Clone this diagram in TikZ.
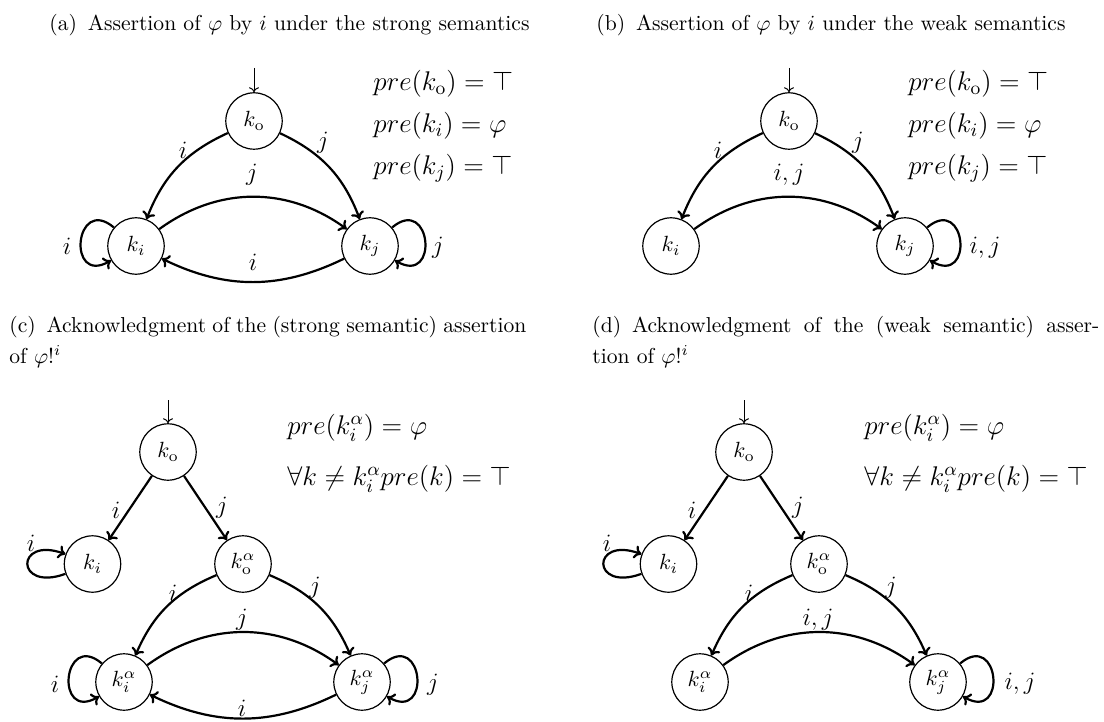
\RequirePackage{fix-cm}
\documentclass[tikz,border=0pt]{standalone}
\usepackage{amssymb}
\usetikzlibrary{arrows.meta}
\begin{document}
\begin{tikzpicture}[x=0.5pt,y=-0.5pt,
  state/.style={circle, draw, line width=0.6pt, minimum size=28.2pt, inner sep=0pt, font=\fontsize{11}{13}\selectfont},
  edg/.style={line width=1.1pt, -{To[length=3.6pt,width=6.8pt]}},
  initarr/.style={line width=0.5pt, -{To[length=2.5pt,width=5pt]}},
  lbl/.style={inner sep=0pt, font=\fontsize{12.5}{14}\selectfont},
  pretext/.style={anchor=west, inner sep=0pt, font=\fontsize{13.5}{16}\selectfont},
  captxt/.style={anchor=west, inner sep=0pt, font=\fontsize{10.8}{13}\selectfont},
  capbox/.style={anchor=north west, inner sep=0pt, align=justify, font=\fontsize{10.8}{15.5}\selectfont}
]
\useasboundingbox (0,0) rectangle (1104,722);

% ---------------- (a)
\node[captxt] (capa) at (49,25) {(a)\enspace Assertion of $\varphi$ by $i$ under the strong semantics};
\node[state] (koA) at (254,121) {$k_{\mathrm{o}}$};
\node[state] (kiA) at (136,246) {$k_i$};
\node[state] (kjA) at (370,246) {$k_j$};
\coordinate (sA) at (254,68);
\draw[initarr] (sA) -- (koA);
\draw[edg] (koA) to[bend right=22] (kiA);
\draw[edg] (koA) to[bend left=22] (kjA);
\draw[edg] (kiA) to[bend left=36] (kjA);
\draw[edg] (kjA) to[bend left=26] (kiA);
\draw[edg] (kiA) to[out=140,in=210,looseness=4] (kiA);
\draw[edg] (kjA) to[out=40,in=-30,looseness=4] (kjA);
\node[lbl] (lA1) at (183,150) {$i$};
\node[lbl] (lA2) at (323,143) {$j$};
\node[lbl] (lA3) at (252,175) {$j$};
\node[lbl] (lA4) at (253,262) {$i$};
\node[lbl] (lA5) at (67,246) {$i$};
\node[lbl] (lA6) at (438,248) {$j$};
\node[pretext] (pA1) at (373,84) {$pre(k_{\mathrm{o}}) = \top$};
\node[pretext] (pA2) at (373,126) {$pre(k_i) = \varphi$};
\node[pretext] (pA3) at (373,168) {$pre(k_j) = \top$};

% ---------------- (b)
\node[captxt] (capb) at (596,25) {(b)\enspace Assertion of $\varphi$ by $i$ under the weak semantics};
\node[state] (koB) at (789,121) {$k_{\mathrm{o}}$};
\node[state] (kiB) at (671,246) {$k_i$};
\node[state] (kjB) at (905,246) {$k_j$};
\coordinate (sB) at (789,68);
\draw[initarr] (sB) -- (koB);
\draw[edg] (koB) to[bend right=22] (kiB);
\draw[edg] (koB) to[bend left=22] (kjB);
\draw[edg] (kiB) to[bend left=36] (kjB);
\draw[edg] (kjB) to[out=40,in=-30,looseness=4] (kjB);
\node[lbl] (lB1) at (718,150) {$i$};
\node[lbl] (lB2) at (858,143) {$j$};
\node[lbl] (lB3) at (789,175) {$i, j$};
\node[lbl] (lB4) at (985,248) {$i, j$};
\node[pretext] (pB1) at (908,84) {$pre(k_{\mathrm{o}}) = \top$};
\node[pretext] (pB2) at (908,126) {$pre(k_i) = \varphi$};
\node[pretext] (pB3) at (908,168) {$pre(k_j) = \top$};

% ---------------- (c)
\node[capbox, text width=258.5pt] (capc) at (9,316) {(c)\enspace Acknowledgment of the (strong semantic) assertion of~$\varphi!^i$};
\node[state] (koC) at (168,452) {$k_{\mathrm{o}}$};
\node[state] (kiC) at (92.5,564) {$k_i$};
\node[state] (koaC) at (243,564) {$k_{\mathrm{o}}^{\alpha}$};
\node[state] (kiaC) at (124,682) {$k_i^{\alpha}$};
\node[state] (kjaC) at (362,682) {$k_j^{\alpha}$};
\coordinate (sC) at (168,400);
\draw[initarr] (sC) -- (koC);
\draw[edg] (koC) -- (kiC);
\draw[edg] (koC) -- (koaC);
\draw[edg] (koaC) to[bend right=22] (kiaC);
\draw[edg] (koaC) to[bend left=22] (kjaC);
\draw[edg] (kiaC) to[bend left=36] (kjaC);
\draw[edg] (kjaC) to[bend left=26] (kiaC);
\draw[edg] (kiaC) to[out=140,in=210,looseness=4] (kiaC);
\draw[edg] (kjaC) to[out=40,in=-30,looseness=4] (kjaC);
\draw[edg] (kiC) to[out=200,in=160,looseness=7] (kiC);
\node[lbl] (lC1) at (116,510) {$i$};
\node[lbl] (lC2) at (222,508) {$j$};
\node[lbl] (lC3) at (173,593) {$i$};
\node[lbl] (lC4) at (315,588) {$j$};
\node[lbl] (lC5) at (242,620) {$j$};
\node[lbl] (lC6) at (242,708) {$i$};
\node[lbl] (lC7) at (55,684) {$i$};
\node[lbl] (lC8) at (433,685) {$j$};
\node[lbl] (lC9) at (31,543) {$i$};
\node[pretext] (pC1) at (287,428) {$pre(k_i^{\alpha}) = \varphi$};
\node[pretext] (pC2) at (287,479) {$\forall k \neq k_i^{\alpha} pre(k) = \top$};

% ---------------- (d)
\node[capbox, text width=253.5pt] (capd) at (592,316) {(d)\enspace Acknowledgment of the (weak semantic) asser-\linebreak tion of~$\varphi!^i$};
\node[state] (koD) at (744,452) {$k_{\mathrm{o}}$};
\node[state] (kiD) at (668.5,564) {$k_i$};
\node[state] (koaD) at (819,564) {$k_{\mathrm{o}}^{\alpha}$};
\node[state] (kiaD) at (700,682) {$k_i^{\alpha}$};
\node[state] (kjaD) at (938,682) {$k_j^{\alpha}$};
\coordinate (sD) at (744,400);
\draw[initarr] (sD) -- (koD);
\draw[edg] (koD) -- (kiD);
\draw[edg] (koD) -- (koaD);
\draw[edg] (koaD) to[bend right=22] (kiaD);
\draw[edg] (koaD) to[bend left=22] (kjaD);
\draw[edg] (kiaD) to[bend left=36] (kjaD);
\draw[edg] (kjaD) to[out=40,in=-30,looseness=4] (kjaD);
\draw[edg] (kiD) to[out=200,in=160,looseness=7] (kiD);
\node[lbl] (lD1) at (692,510) {$i$};
\node[lbl] (lD2) at (798,508) {$j$};
\node[lbl] (lD3) at (749,593) {$i$};
\node[lbl] (lD4) at (891,588) {$j$};
\node[lbl] (lD5) at (818,620) {$i, j$};
\node[lbl] (lD6) at (1020,684) {$i, j$};
\node[lbl] (lD7) at (607,543) {$i$};
\node[pretext] (pD1) at (864,428) {$pre(k_i^{\alpha}) = \varphi$};
\node[pretext] (pD2) at (864,479) {$\forall k \neq k_i^{\alpha} pre(k) = \top$};
\end{tikzpicture}
\end{document}
